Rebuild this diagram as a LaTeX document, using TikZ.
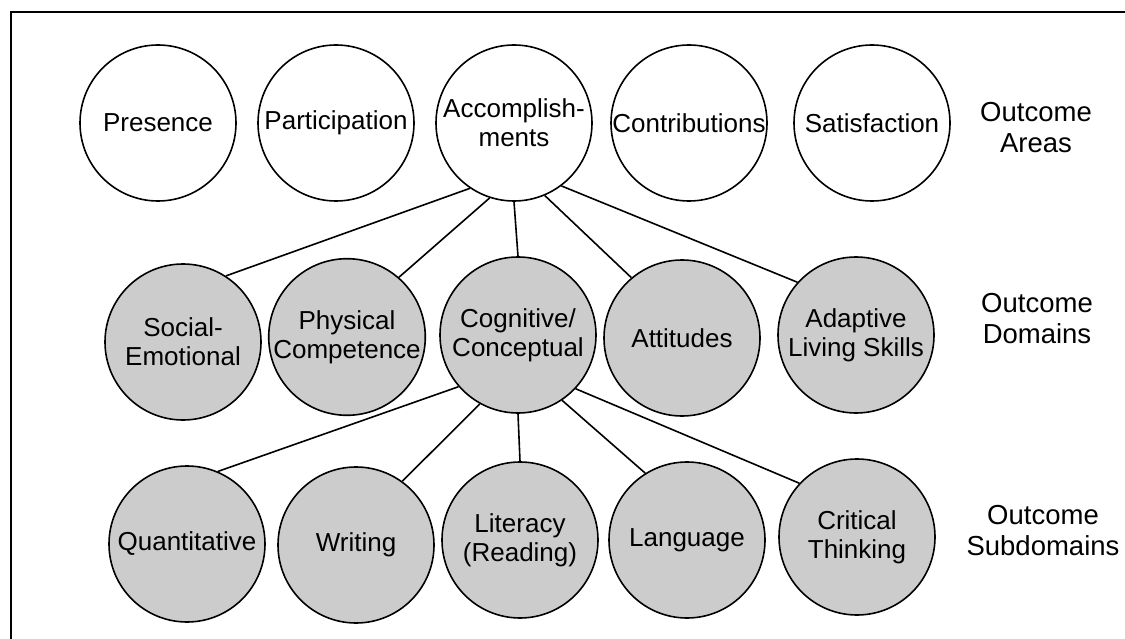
\documentclass[tikz,border=0pt]{standalone}
\usepackage{fontspec}
\setmainfont{Liberation Sans}
\begin{document}
\begin{tikzpicture}[x=1pt,y=-1pt,
    areacircle/.style={circle,draw,line width=1.6pt,minimum size=156pt,inner sep=0pt,
      align=center,font=\fontsize{26}{29}\selectfont},
    domaincircle/.style={areacircle,fill=black!20},
    levellabel/.style={align=center,font=\fontsize{27.5}{31}\selectfont}]
  \useasboundingbox (0,0) rectangle (1125,639);
  \draw[line width=1.6pt] (11,639) -- (11,12) -- (1125,12);
  \draw
    (158,123) node[areacircle] (pres){Presence}
    (336,123) node[areacircle] (part){Participation}
    (514,123) node[areacircle] (acc){Accomplish-\\ments}
    (689,123) node[areacircle] (contr){Contributions}
    (872,123) node[areacircle] (satis){Satisfaction}
    (183,342) node[domaincircle] (soc){Social-\\Emotional}
    (347,337) node[domaincircle] (phys){Physical\\Competence}
    (518,335) node[domaincircle] (cog){Cognitive/\\Conceptual}
    (682,338) node[domaincircle] (att){Attitudes}
    (856,335) node[domaincircle] (adapt){Adaptive\\Living Skills}
    (187,544) node[domaincircle] (quant){Quantitative}
    (356,545) node[domaincircle] (writ){Writing}
    (520,540) node[domaincircle] (lit){Literacy\\(Reading)}
    (687,540) node[domaincircle] (lang){Language}
    (857,537) node[domaincircle] (crit){Critical\\Thinking}
    (1036,128) node[levellabel] (areas){Outcome\\Areas}
    (1037,319) node[levellabel] (domains){Outcome\\Domains}
    (1043,531) node[levellabel] (subdomains){Outcome\\Subdomains};
  \begin{scope}[line width=1.6pt]
    \draw (acc.236) to (soc.57);
    \draw (acc.252) to (phys.49);
    \draw (acc.south) to (cog.north);
    \draw (acc.293) to (att.130);
    \draw (acc.307) to (adapt.138);
    \draw (cog.221) to (quant.67);
    \draw (cog.241) to (writ.54);
    \draw (cog.south) to (lit.north);
    \draw (cog.304) to (lang.122);
    \draw (cog.317) to (crit.137);
  \end{scope}
\end{tikzpicture}
\end{document}
